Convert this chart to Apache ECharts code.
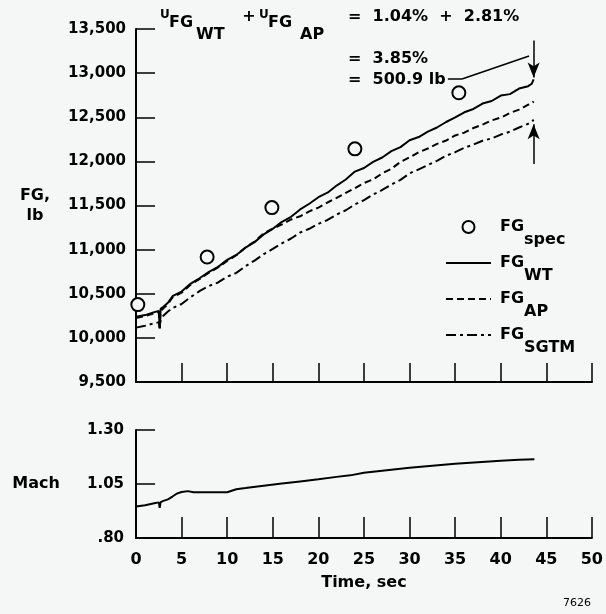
<!DOCTYPE html>
<html>
<head>
<meta charset="utf-8">
<script src="https://cdn.jsdelivr.net/npm/echarts@6/dist/echarts.min.js"></script>
<style>
  html, body { margin: 0; padding: 0; background: #f5f7f7; }
  #chart { width: 606px; height: 614px; }
</style>
</head>
<body>
<div id="chart"></div>
<script>
// thrust test data
var fgTime = [0, 1, 2, 2.5, 2.6, 2.7, 3, 3.5, 4, 5, 6, 7, 8, 9, 10, 11, 12, 13, 14, 15, 16, 17, 18, 19, 20,
  21, 22, 23, 24, 25, 26, 27, 28, 29, 30, 31, 32, 33, 34, 35, 36, 37, 38, 39, 40, 41, 42, 43, 43.4, 43.6];
var fgWT = [10240, 10258, 10292, 10305, 10110, 10330, 10352, 10398, 10472, 10525, 10615, 10678, 10748, 10805, 10884,
  10940, 11022, 11085, 11172, 11236, 11315, 11372, 11455, 11520, 11594, 11645, 11726, 11795, 11884, 11925,
  11995, 12044, 12116, 12162, 12240, 12276, 12338, 12384, 12446, 12498, 12556, 12594, 12655, 12684, 12746,
  12762, 12825, 12852, 12880, 12930];
var fgAP = [10226, 10246, 10280, 10290, 10125, 10302, 10334, 10384, 10458, 10512, 10604, 10668, 10738, 10798, 10872,
  10936, 11024, 11092, 11184, 11238, 11286, 11342, 11378, 11434, 11476, 11534, 11586, 11644, 11696, 11754,
  11796, 11864, 11916, 11994, 12046, 12104, 12146, 12198, 12236, 12294, 12326, 12378, 12416, 12464, 12496,
  12548, 12586, 12642, 12658, 12680];
var fgSGTM = [10116, 10138, 10164, 10176, 10108, 10198, 10252, 10298, 10338, 10384, 10462, 10532, 10588, 10628, 10694,
  10736, 10812, 10876, 10948, 11008, 11072, 11126, 11194, 11236, 11292, 11336, 11398, 11446, 11512, 11560,
  11624, 11676, 11738, 11790, 11864, 11910, 11958, 12006, 12064, 12104, 12154, 12190, 12234, 12260, 12304,
  12336, 12384, 12426, 12446, 12472];
var specTime = [0.2, 7.8, 14.9, 24.0, 35.4];
var specFG = [10377, 10916, 11476, 12142, 12777];

var machTime = [0, 1, 2, 2.5, 2.6, 2.7, 3, 3.5, 4, 4.5, 5, 5.7, 6.3, 8, 10, 10.5, 11, 12, 14, 16, 18, 20, 22,
  23.5, 25, 27.5, 30, 32.5, 35, 37.5, 40, 42, 43.7];
var mach = [0.946, 0.952, 0.961, 0.965, 0.940, 0.966, 0.972, 0.979, 0.992, 1.006, 1.013, 1.017, 1.012, 1.012, 1.012,
  1.019, 1.026, 1.031, 1.042, 1.052, 1.062, 1.072, 1.083, 1.090, 1.102, 1.114, 1.125, 1.135, 1.144, 1.151,
  1.158, 1.162, 1.165];

var fgTicks = [9500, 13500, 500];
var machTicks = [0.8, 1.3, 0.25];
var timeTicks = [0, 50, 5];

var FONT = "'DejaVu Sans', sans-serif";
var INK = '#000';
var BG = '#f5f7f7';

function pairs(xs, ys) {
  return xs.map(function (x, i) { return [x, ys[i]]; });
}

var chart = echarts.init(document.getElementById('chart'));

var axisLine = { lineStyle: { color: INK, width: 2 } };
var tick = function (len) {
  return { inside: true, length: len, lineStyle: { color: INK, width: 1.5 } };
};
var labelStyle = { color: INK, fontFamily: FONT, fontWeight: 'bold', fontSize: 15 };

var sub = {
  m: { fontFamily: FONT, fontWeight: 'bold', fontSize: 16, color: INK, padding: [0, 0, 0, 4] },
  s: { fontFamily: FONT, fontWeight: 'bold', fontSize: 16, color: INK, padding: [26, 0, 0, 0], verticalAlign: 'top' }
};

function txt(x, y, text, size, weight, align) {
  return {
    type: 'text', x: x, y: y, silent: true,
    style: {
      text: text, fill: INK, align: align || 'left', verticalAlign: 'middle',
      font: (weight || 'bold') + ' ' + size + 'px ' + FONT
    }
  };
}

var dot = { color: BG, borderColor: INK, borderWidth: 2, opacity: 1 };

chart.setOption({
  backgroundColor: BG,
  animation: false,
  grid: [
    { left: 136, right: 14, top: 29, height: 353 },
    { left: 136, right: 14, top: 430, height: 108 }
  ],
  xAxis: [
    {
      gridIndex: 0, type: 'value', min: timeTicks[0], max: timeTicks[1], interval: timeTicks[2],
      axisLine: axisLine, axisTick: tick(19), axisLabel: { show: false }, splitLine: { show: false }
    },
    {
      gridIndex: 1, type: 'value', min: timeTicks[0], max: timeTicks[1], interval: timeTicks[2],
      axisLine: axisLine, axisTick: tick(21), splitLine: { show: false },
      axisLabel: Object.assign({ margin: 14 }, labelStyle, { fontSize: 16 }),
      name: 'Time, sec', nameLocation: 'middle', nameGap: 37,
      nameTextStyle: { color: INK, fontFamily: FONT, fontWeight: 'bold', fontSize: 16 }
    }
  ],
  yAxis: [
    {
      gridIndex: 0, type: 'value', min: fgTicks[0], max: fgTicks[1], interval: fgTicks[2],
      axisLine: axisLine, axisTick: tick(19), splitLine: { show: false },
      axisLabel: Object.assign({ margin: 10, formatter: function (v) { return v.toLocaleString('en-US'); } }, labelStyle),
      name: 'FG,\nlb', nameLocation: 'middle', nameGap: 101, nameRotate: 0,
      nameTextStyle: { color: INK, fontFamily: FONT, fontWeight: 'bold', fontSize: 16, align: 'center', lineHeight: 20 }
    },
    {
      gridIndex: 1, type: 'value', min: machTicks[0], max: machTicks[1], interval: machTicks[2],
      axisLine: axisLine, axisTick: tick(19), splitLine: { show: false },
      axisLabel: Object.assign({ margin: 12, formatter: function (v) { return v.toFixed(2).replace(/^0/, ''); } }, labelStyle),
      name: 'Mach', nameLocation: 'middle', nameGap: 100, nameRotate: 0,
      nameTextStyle: { color: INK, fontFamily: FONT, fontWeight: 'bold', fontSize: 16, align: 'center' }
    }
  ],
  legend: {
    orient: 'vertical', left: 445, top: 219, padding: 0, itemGap: 7,
    itemWidth: 45, itemHeight: 12, selectedMode: false,
    itemStyle: { opacity: 0 },
    data: [
      { name: 'spec', icon: 'circle', itemStyle: { opacity: 1, color: BG, borderColor: INK, borderWidth: 2 } },
      'WT', 'AP', 'SGTM'
    ],
    formatter: function (name) { return '{m|FG}{s|' + name + '}'; },
    textStyle: { rich: sub }
  },
  graphic: [
    txt(160, 15, 'U', 12),
    txt(169, 23, 'FG', 16),
    txt(196, 35, 'WT', 16),
    txt(249, 17, '+', 16, 'bold', 'center'),
    txt(259, 15, 'U', 12),
    txt(268, 23, 'FG', 16),
    txt(300, 35, 'AP', 16),
    txt(348, 17, '=  1.04%  +  2.81%', 16),
    txt(348, 59, '=  3.85%', 16),
    txt(348, 80, '=  500.9 lb', 16),
    txt(577, 603, '7626', 11, 'normal', 'center')
  ],
  series: [
    {
      name: 'spec', type: 'scatter', xAxisIndex: 0, yAxisIndex: 0,
      data: pairs(specTime, specFG), symbol: 'circle', symbolSize: 13,
      itemStyle: dot, z: 5
    },
    {
      name: 'WT', type: 'line', xAxisIndex: 0, yAxisIndex: 0, data: pairs(fgTime, fgWT),
      symbol: 'none', lineStyle: { color: INK, width: 2 },
      markLine: {
        silent: true, symbol: ['none', 'arrow'], symbolSize: [9, 15], label: { show: false },
        lineStyle: { color: INK, width: 1.5, type: 'solid' },
        data: [
          [{ coord: [43.6, 13370] }, { coord: [43.6, 12950] }],
          [{ coord: [34.2, 12933], symbol: 'none' }, { coord: [35.75, 12933], symbol: 'none' }],
          [{ coord: [35.75, 12933], symbol: 'none' }, { coord: [43.1, 13194], symbol: 'none' }]
        ]
      }
    },
    {
      name: 'AP', type: 'line', xAxisIndex: 0, yAxisIndex: 0, data: pairs(fgTime, fgAP),
      symbol: 'none', lineStyle: { color: INK, width: 2, type: [7, 4] }
    },
    {
      name: 'SGTM', type: 'line', xAxisIndex: 0, yAxisIndex: 0, data: pairs(fgTime, fgSGTM),
      symbol: 'none', lineStyle: { color: INK, width: 2, type: [10, 4, 3, 4] },
      markLine: {
        silent: true, symbol: ['none', 'arrow'], symbolSize: [9, 15], label: { show: false },
        lineStyle: { color: INK, width: 1.5, type: 'solid' },
        data: [[{ coord: [43.6, 11970] }, { coord: [43.6, 12420] }]]
      }
    },
    {
      name: 'Mach', type: 'line', xAxisIndex: 1, yAxisIndex: 1, data: pairs(machTime, mach),
      symbol: 'none', lineStyle: { color: INK, width: 2 }
    }
  ]
});
</script>
</body>
</html>
